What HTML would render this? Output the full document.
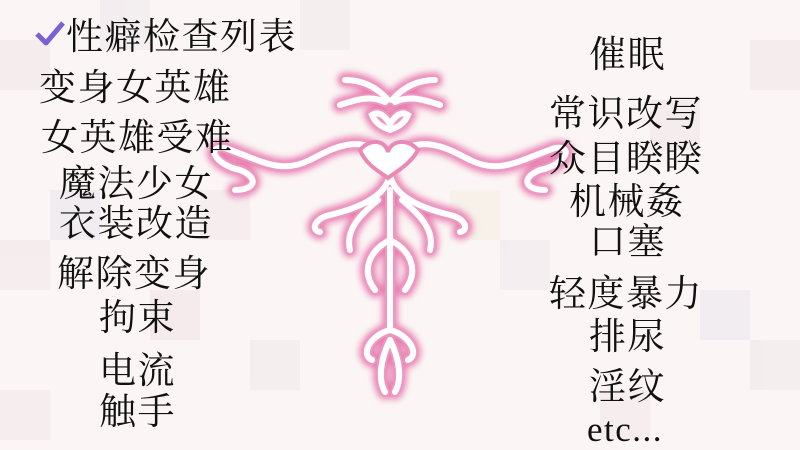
<!DOCTYPE html>
<html><head><meta charset="utf-8">
<style>
html,body{margin:0;padding:0}
body{width:800px;height:450px;overflow:hidden;position:relative;background:#fbf6f5;font-family:"Liberation Serif","Noto Serif CJK SC","Noto Sans CJK SC",serif}
.bg{position:absolute;inset:0}
.t{position:absolute;font-size:37px;line-height:1;color:#111;white-space:nowrap;letter-spacing:1.5px}
</style></head>
<body>
<svg class="bg" width="800" height="450">
<g opacity="0.5">
<rect x="0" y="40" width="50" height="50" fill="#f0e3e6"/><rect x="100" y="0" width="50" height="50" fill="#ece6ec"/>
<rect x="50" y="190" width="50" height="50" fill="#e9e3ea"/><rect x="0" y="240" width="50" height="50" fill="#efe4e7"/>
<rect x="150" y="290" width="50" height="50" fill="#f0e2e5"/><rect x="250" y="340" width="50" height="50" fill="#eee5ea"/>
<rect x="300" y="0" width="50" height="50" fill="#efe5ea"/><rect x="500" y="240" width="50" height="50" fill="#eee6ec"/>
<rect x="650" y="100" width="50" height="50" fill="#f0e3e6"/><rect x="700" y="290" width="50" height="50" fill="#ebe5ec"/>
<rect x="750" y="40" width="50" height="50" fill="#efe3e6"/><rect x="600" y="390" width="50" height="50" fill="#f1e5e8"/>
<rect x="450" y="190" width="50" height="50" fill="#f4eee0"/><rect x="200" y="190" width="50" height="50" fill="#f0e4e8"/>
<rect x="0" y="390" width="50" height="50" fill="#f0e4e8"/><rect x="750" y="340" width="50" height="50" fill="#eee5ea"/>
</g>
</svg>
<svg class="bg" width="800" height="450">
<defs><filter id="gl" x="-20%" y="-20%" width="140%" height="140%"><feGaussianBlur stdDeviation="3.5"/></filter>
<g id="shape">
<path d="M390 160 C360 130,330 150,310 160 C280 175,260 160,225 148 C205 145,215 165,240 170 C260 178,255 190,235 190"/>
<path d="M390 160 C420 130,450 150,470 160 C500 175,520 160,555 148 C575 145,565 165,540 170 C520 178,525 190,545 190"/>
<path d="M372 115 C380 110,386 118,390 124 C394 118,400 110,408 115 C404 125,395 128,390 130 C385 128,376 125,372 115Z"/>
<path d="M388 100 C375 85,360 80,345 80 M392 100 C405 85,420 80,435 80 M385 102 C370 95,355 100,340 105 M395 102 C410 95,425 100,440 105"/>
<path d="M390 175 C385 200,350 210,330 215 C315 218,310 230,320 232 M390 175 C395 200,430 210,450 215 C465 218,470 230,460 232"/>
<path d="M378 200 C360 215,345 230,350 250 M402 200 C420 215,435 230,430 250"/>
<path d="M390 190 L390 330 M390 240 C370 250,360 270,375 290 M390 240 C410 250,420 270,405 290"/>
<path d="M390 330 C370 335,360 355,372 360 M390 330 C410 335,420 355,408 360 M390 340 C380 360,378 380,385 392 M390 340 C400 360,402 380,395 392"/>
</g></defs>
<g fill="none" stroke-linecap="round">
<use href="#shape" stroke="#e77fb0" stroke-width="15" filter="url(#gl)"/>
<use href="#shape" stroke="#ec98c0" stroke-width="10"/>
<use href="#shape" stroke="#fff" stroke-width="6"/>
<path d="M360 150 C370 138,385 140,388 152 C391 140,408 138,418 150 C410 165,395 172,388 178 C380 172,366 165,360 150Z" stroke="#e98ab6" stroke-width="4" fill="#fff"/>
</g>
</svg>
<svg style="position:absolute;left:34px;top:20px" width="32" height="28"><path d="M3 14 L12 23 L29 3" stroke="#7a5fd6" stroke-width="5" fill="none" stroke-linejoin="round"/></svg>
<div class="t" style="left:66px;top:19px">性癖检查列表</div>
<div class="t" style="left:39px;top:70px">变身女英雄</div>
<div class="t" style="left:41px;top:120px">女英雄受难</div>
<div class="t" style="left:59px;top:166px">魔法少女</div>
<div class="t" style="left:59px;top:206px">衣装改造</div>
<div class="t" style="left:57px;top:256px">解除变身</div>
<div class="t" style="left:99px;top:300px">拘束</div>
<div class="t" style="left:99px;top:353px">电流</div>
<div class="t" style="left:99px;top:394px">触手</div>
<div class="t" style="left:589px;top:37px">催眠</div>
<div class="t" style="left:549px;top:96px">常识改写</div>
<div class="t" style="left:549px;top:141px">众目睽睽</div>
<div class="t" style="left:569px;top:184px">机械姦</div>
<div class="t" style="left:589px;top:224px">口塞</div>
<div class="t" style="left:549px;top:276px">轻度暴力</div>
<div class="t" style="left:589px;top:319px">排尿</div>
<div class="t" style="left:589px;top:369px">淫纹</div>
<div class="t" style="left:587px;top:412px;font-size:35px">etc...</div>
</body></html>
